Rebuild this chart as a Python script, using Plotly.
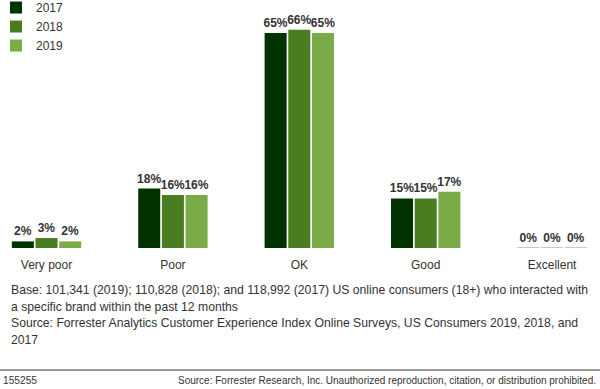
import plotly.graph_objects as go

categories = ["Very poor", "Poor", "OK", "Good", "Excellent"]
years = ["2017", "2018", "2019"]
values_2017 = [2, 18, 65, 15, 0]
values_2018 = [3, 16, 66, 15, 0]
values_2019 = [2, 16, 65, 17, 0]
colors = ["#003300", "#4a7d1f", "#7aab46"]

footnotes = [
    "Base: 101,341 (2019); 110,828 (2018); and 118,992 (2017) US online consumers (18+) who interacted with",
    "a specific brand within the past 12 months",
    "Source: Forrester Analytics Customer Experience Index Online Surveys, US Consumers 2019, 2018, and",
    "2017",
]
footer_left = "155255"
footer_right = "Source: Forrester Research, Inc. Unauthorized reproduction, citation, or distribution prohibited."

FONT = "Liberation Sans, Arial, Helvetica, sans-serif"

fig = go.Figure()
for name, vals, col in zip(years, [values_2017, values_2018, values_2019], colors):
    fig.add_trace(go.Bar(
        name=name, x=categories, y=vals,
        marker=dict(color=col,
                    line=dict(color=["#a9c0a9" if v == 0 else col for v in vals], width=[1 if v == 0 else 0 for v in vals])),
        text=[f"{v}%" for v in vals], textposition="outside", constraintext="none",
        textfont=dict(family=FONT, size=12, color="#333333", weight="bold"),
        cliponaxis=False, hoverinfo="skip",
    ))

W, H = 600, 389
top, bottom_px = 10, 248.3
plot_h = bottom_px - top

def py(p):
    return (bottom_px - p) / plot_h

fig.update_layout(
    width=W, height=H,
    margin=dict(l=0, r=0, t=top, b=H - bottom_px, autoexpand=False),
    paper_bgcolor="white", plot_bgcolor="white",
    barmode="group", bargap=0.438, bargroupgap=0.07,
    font=dict(family=FONT, size=12, color="#333333"),
    showlegend=True,
    legend=dict(xref="paper", yref="paper", x=-4 / W, y=py(-7), xanchor="left", yanchor="top",
                font=dict(size=12, color="#333333"), bgcolor="rgba(0,0,0,0)",
                traceorder="normal"),
    xaxis=dict(range=[-0.368, 4.379], showgrid=False, showline=False, zeroline=False,
               ticks="", ticklabelstandoff=8, tickfont=dict(size=12, color="#333333")),
    yaxis=dict(range=[0, plot_h / 3.31], visible=False, showgrid=False, zeroline=False),
)

ys = [290, 307, 323.5, 340]
for t, yy in zip(footnotes, ys):
    fig.add_annotation(text=t, xref="paper", yref="paper", x=9 / W, y=py(yy),
                       xanchor="left", yanchor="middle", showarrow=False,
                       font=dict(size=12.2, color="#333333", family=FONT))

fig.add_shape(type="line", xref="paper", yref="paper", x0=0, x1=1, y0=py(370.5), y1=py(370.5),
              line=dict(color="#333333", width=1))
fig.add_annotation(text=footer_left, xref="paper", yref="paper", x=1 / W, y=py(381),
                   xanchor="left", yanchor="middle", showarrow=False,
                   font=dict(size=10.2, color="#333333", family=FONT))
fig.add_annotation(text=footer_right, xref="paper", yref="paper", x=598 / W, y=py(381),
                   xanchor="right", yanchor="middle", showarrow=False,
                   font=dict(size=10, color="#333333", family=FONT))

fig.write_html("out.html", config={"displayModeBar": False},
               post_script="document.body.style.margin='0';document.body.style.overflow='hidden';")
